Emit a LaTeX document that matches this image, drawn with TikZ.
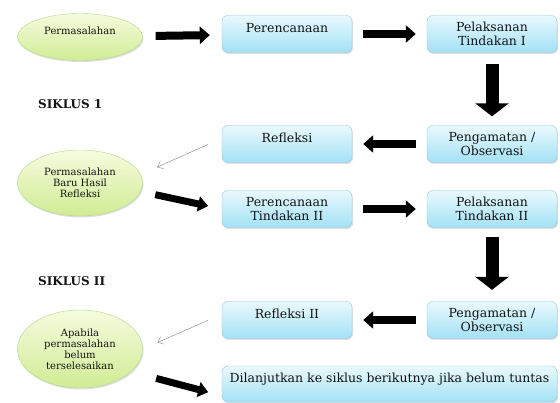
\documentclass[tikz,border=0pt]{standalone}
\usepackage{fontspec}
\setmainfont{DejaVu Serif}
\usetikzlibrary{arrows.meta,shapes.geometric,shadows}
\definecolor{boxline}{HTML}{8CC6E4}
\definecolor{boxtop}{HTML}{EAF9FE}
\definecolor{boxbot}{HTML}{A2E1F5}
\definecolor{elline}{HTML}{B4D88A}
\definecolor{eltop}{HTML}{F6FBDF}
\definecolor{elbot}{HTML}{D0EC94}
\definecolor{ink}{HTML}{141414}
\begin{document}
\begin{tikzpicture}[x=1pt, y=-1pt, font=\fontsize{12.5}{14.5}\selectfont, text=ink,
        stage/.style={rectangle, rounded corners=6pt, draw=boxline, top color=boxtop, bottom color=boxbot,
            minimum width=130pt, minimum height=37pt, align=center, inner sep=2pt,
            drop shadow={opacity=0.25, shadow xshift=1pt, shadow yshift=-1.5pt}},
        oneline/.style={text depth=13pt},
        problem/.style={ellipse, draw=elline, top color=eltop, bottom color=elbot, minimum width=125pt,
            inner sep=0pt, align=center, font=\fontsize{10}{11}\selectfont,
            drop shadow={opacity=0.25, shadow xshift=1pt, shadow yshift=-1.5pt}},
        siklus/.style={anchor=west, inner sep=0pt, font=\bfseries\fontsize{12}{13}\selectfont},
        bigarrow/.style={line width=8pt, -{Triangle[length=10pt,width=17pt]}},
        downarrow/.style={line width=13pt, -{Triangle[length=13pt,width=33pt]}},
        slantarrow/.style={line width=7pt, -{Triangle[length=10pt,width=15pt]}},
        thinarrow/.style={gray, thin, -{Straight Barb[length=5pt,width=8pt]}}]
    \useasboundingbox (0,0) rectangle (560,403);
    % siklus 1
    \node[problem, minimum height=47pt, oneline] (masalah1) at (80,37) {Permasalahan};
    \node[stage, oneline] (rencana1) at (287,34) {Perencanaan};
    \node[stage] (laksana1) at (492,34) {Pelaksanan\\Tindakan I};
    \node[siklus] (siklus1) at (38,104) {SIKLUS 1};
    \node[stage, oneline] (refleksi1) at (287,144) {Refleksi};
    \node[stage] (amat1) at (492,144) {Pengamatan /\\Observasi};
    % siklus 2
    \node[problem, minimum height=66pt] (masalah2) at (80,183) {Permasalahan\\Baru Hasil\\Refleksi};
    \node[stage] (rencana2) at (287,209) {Perencanaan\\Tindakan II};
    \node[stage] (laksana2) at (492,209) {Pelaksanan\\Tindakan II};
    \node[siklus] (siklus2) at (38,281) {SIKLUS II};
    \node[stage, oneline] (refleksi2) at (287,320) {Refleksi II};
    \node[stage] (amat2) at (492,320) {Pengamatan /\\Observasi};
    \node[problem, minimum height=78pt] (masalah3) at (80,349) {Apabila\\permasalahan\\belum\\terselesaikan};
    \node[stage, oneline, minimum width=335pt, minimum height=36pt] (lanjut) at (389.5,384) {Dilanjutkan ke siklus berikutnya jika belum tuntas};
    % arrows
    \draw[bigarrow, shorten <=13pt, shorten >=12pt] (masalah1) -- (rencana1);
    \draw[bigarrow, shorten <=11pt, shorten >=11pt] (rencana1) -- (laksana1);
    \draw[downarrow, shorten <=11pt, shorten >=9pt] (laksana1) -- (amat1);
    \draw[bigarrow, shorten <=11pt, shorten >=11pt] (amat1) -- (refleksi1);
    \draw[thinarrow, shorten <=15pt, shorten >=18pt] (refleksi1.175) -- (masalah2.8);
    \draw[slantarrow, shorten <=15pt, shorten >=14pt] (masalah2.-8) -- (rencana2.west);
    \draw[bigarrow, shorten <=11pt, shorten >=11pt] (rencana2) -- (laksana2);
    \draw[downarrow, shorten <=9.5pt, shorten >=11.5pt] (laksana2) -- (amat2);
    \draw[bigarrow, shorten <=11pt, shorten >=11pt] (amat2) -- (refleksi2);
    \draw[thinarrow, shorten <=15pt, shorten >=16pt] (refleksi2.175) -- (masalah3.east);
    \draw[slantarrow, shorten <=26pt, shorten >=14pt] (masalah3.-24) -- (lanjut.184);
\end{tikzpicture}
\end{document}
